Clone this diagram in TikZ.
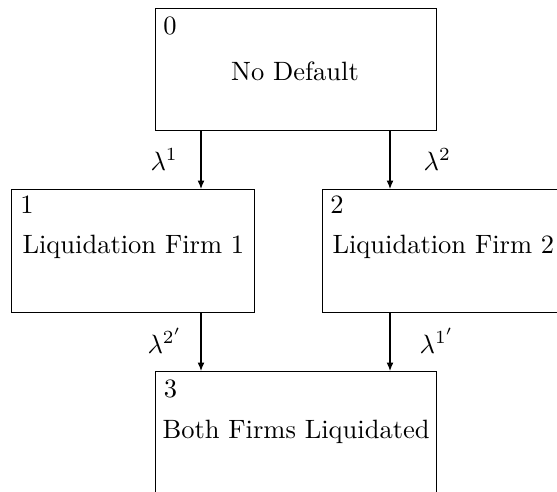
\documentclass[tikz,border=0pt]{standalone}
\usetikzlibrary{arrows.meta}
\begin{document}
\begin{tikzpicture}[x=0.3774pt,y=-0.3774pt,
  statebox/.style={draw,line width=0.4pt,inner sep=0pt,anchor=north west},
  txt/.style={inner sep=0pt,anchor=base west},
  arr/.style={-{Latex[length=3.2pt,width=2.6pt]},line width=0.4pt}]
\useasboundingbox (0,0) rectangle (557,491);
% boxes
\node[statebox,minimum width=281*0.3774pt,minimum height=122*0.3774pt] (b0) at (155,8) {};
\node[statebox,minimum width=243*0.3774pt,minimum height=123*0.3774pt] (b1) at (11,189) {};
\node[statebox,minimum width=243*0.3774pt,minimum height=123*0.3774pt] (b2) at (322,189) {};
\node[statebox,minimum width=281*0.3774pt,minimum height=122*0.3774pt] (b3) at (155,371) {};
% numbers
\node[inner sep=0pt] (n0) at (170,25.5) {0};
\node[inner sep=0pt] (n1) at (27,205) {1};
\node[inner sep=0pt] (n2) at (337,205) {2};
\node[inner sep=0pt] (n3) at (170.5,389) {3};
% texts
\node[inner sep=0pt,anchor=base] (t0) at (295,80) {No Default};
\node[txt] (t1) at (22,253) {Liquidation Firm 1};
\node[txt] (t2) at (332,253) {Liquidation Firm 2};
\node[txt] (t3) at (162,438) {Both Firms Liquidated};
% arrow columns
\coordinate (cl) at (201,0);
\coordinate (cr) at (390,0);
\draw[arr] (cl |- b0.south) -- (cl |- b1.north);
\draw[arr] (cr |- b0.south) -- (cr |- b2.north);
\draw[arr] (cl |- b1.south) -- (cl |- b3.north);
\draw[arr] (cr |- b2.south) -- (cr |- b3.north);
% rates
\node[txt] (l1) at (150,170) {$\lambda^1$};
\node[txt] (l2) at (423,170.5) {$\lambda^2$};
\node[txt] (l3) at (147,353) {$\lambda^{2'}$};
\node[txt] (l4) at (419,353) {$\lambda^{1'}$};
\end{tikzpicture}
\end{document}
